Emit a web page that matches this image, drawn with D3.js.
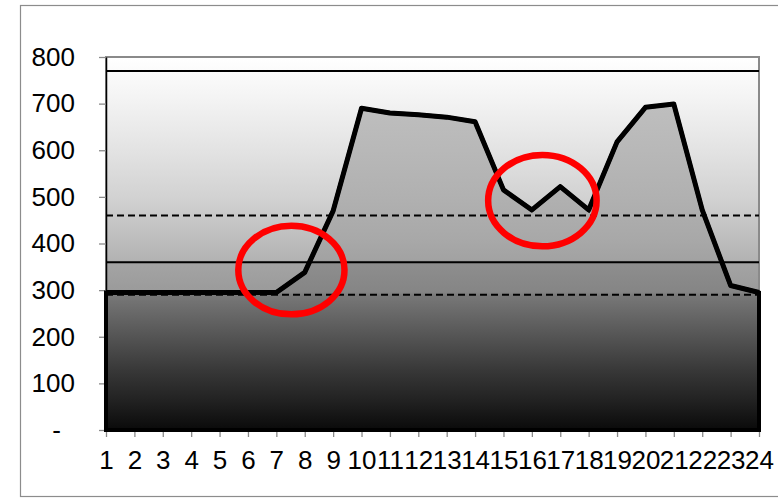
<!DOCTYPE html>
<html>
<head>
<meta charset="utf-8">
<script src="https://cdn.jsdelivr.net/npm/d3@7"></script>
<style>
  html, body { margin: 0; padding: 0; background: #fff; }
  svg { display: block; font-family: "Liberation Sans", Arial, sans-serif; }
</style>
</head>
<body>
<svg id="chart" width="778" height="498"></svg>
<script>
// Hourly values (hours 1..24)
const hours = [1,2,3,4,5,6,7,8,9,10,11,12,13,14,15,16,17,18,19,20,21,22,23,24];
const values = [295,295,295,295,295,295,295,338,470,690,680,676,671,661,515,472,522,472,618,692,699,472,310,295];

// Horizontal reference levels
const solidLevels = [770, 360];
const dashedLevels = [460, 290];

// Value axis ticks
const yTicks = [0,100,200,300,400,500,600,700,800];

// Highlighted regions: centre in (hour, value), radii in (hours, value units)
const highlights = [
  { hour: 7.53, value: 343, rHour: 1.87, rValue: 95 },
  { hour: 16.37, value: 492, rHour: 1.91, rValue: 98 }
];

const svg = d3.select("#chart");
const plotL = 106, plotR = 759, plotT = 57, plotB = 430;

const x = d3.scaleLinear().domain([1, 24]).range([plotL, plotR]);
const y = d3.scaleLinear().domain([0, 800]).range([plotB, plotT]);

const defs = svg.append("defs");

// Plot background gradient
const bg = defs.append("linearGradient")
  .attr("id", "bgGrad").attr("gradientUnits", "userSpaceOnUse")
  .attr("x1", 0).attr("y1", plotT).attr("x2", 0).attr("y2", plotB);
[[plotT, "#ffffff"], [72, "#fbfbfb"], [100, "#f3f3f3"], [150, "#e3e3e3"], [200, "#d1d1d1"],
 [240, "#bdbdbd"], [260, "#b3b3b3"], [263, "#a4a4a4"], [292, "#9a9a9a"], [plotB, "#606060"]]
  .forEach(([p, c]) => bg.append("stop").attr("offset", (p - plotT) / (plotB - plotT)).attr("stop-color", c));

// Area fill gradient
const ag = defs.append("linearGradient")
  .attr("id", "areaGrad").attr("gradientUnits", "userSpaceOnUse")
  .attr("x1", 0).attr("y1", plotT).attr("x2", 0).attr("y2", plotB);
[[plotT, "#c4c4c4"], [115, "#bdbdbd"], [150, "#b8b8b8"], [200, "#b0b0b0"], [240, "#a8a8a8"],
 [260, "#a2a2a2"], [263, "#8e8e8e"], [292, "#858585"], [296, "#777777"], [330, "#5a5a5a"],
 [370, "#383838"], [400, "#222222"], [plotB, "#0a0a0a"]]
  .forEach(([p, c]) => ag.append("stop").attr("offset", (p - plotT) / (plotB - plotT)).attr("stop-color", c));

// Outer chart frame
svg.append("rect")
  .attr("x", 20.5).attr("y", 5.5).attr("width", 800).attr("height", 491)
  .attr("fill", "none").attr("stroke", "#8c8c8c").attr("stroke-width", 1.2);

// Plot area
svg.append("rect")
  .attr("x", plotL).attr("y", plotT).attr("width", plotR - plotL).attr("height", plotB - plotT)
  .attr("fill", "url(#bgGrad)").attr("stroke", "#8a8a8a").attr("stroke-width", 2);

const data = hours.map((h, i) => ({ h, v: values[i] }));

// Area fill under the series
const area = d3.area().x(d => x(d.h)).y0(y(0)).y1(d => y(d.v));
svg.append("path").datum(data).attr("d", area).attr("fill", "url(#areaGrad)");

// Reference lines
svg.selectAll("line.solid").data(solidLevels).join("line")
  .attr("class", "solid")
  .attr("x1", plotL).attr("x2", plotR)
  .attr("y1", d => y(d)).attr("y2", d => y(d))
  .attr("stroke", "#000").attr("stroke-width", 2);

svg.selectAll("line.dashed").data(dashedLevels).join("line")
  .attr("class", "dashed")
  .attr("x1", plotL).attr("x2", plotR)
  .attr("y1", d => y(d)).attr("y2", d => y(d))
  .attr("stroke", "#000").attr("stroke-width", 2).attr("stroke-dasharray", "7,4");

// Axes
const yAxis = d3.axisLeft(y).tickValues(yTicks)
  .tickFormat(d => d === 0 ? "-" : d3.format("d")(d))
  .tickSizeInner(7).tickSizeOuter(0).tickPadding(24);
const gy = svg.append("g").attr("transform", `translate(${plotL},0)`).call(yAxis);
gy.select(".domain").attr("stroke", "#000").attr("stroke-width", 1.5);
gy.selectAll(".tick line").attr("stroke", "#8a8a8a").attr("stroke-width", 1.3);
gy.selectAll(".tick text").attr("font-size", 26).attr("fill", "#000")
  .attr("font-family", "Liberation Sans, Arial, sans-serif")
  .attr("x", d => d === 0 ? -45 : -31);

const xAxis = d3.axisBottom(x).tickValues(hours).tickFormat(d3.format("d"))
  .tickSizeInner(7).tickSizeOuter(0).tickPadding(14);
const gx = svg.append("g").attr("transform", `translate(0,${plotB})`).call(xAxis);
gx.select(".domain").attr("stroke", "#000").attr("stroke-width", 1.5);
gx.selectAll(".tick line").attr("stroke", "#8a8a8a").attr("stroke-width", 1.3);
gx.selectAll(".tick text").attr("font-size", 26).attr("fill", "#000")
  .attr("font-family", "Liberation Sans, Arial, sans-serif");

// Area outline (closed: baseline and both ends)
const outline = d3.line().x(d => x(d.h)).y(d => y(d.v));
const closed = [{ h: 1, v: 0 }, ...data, { h: 24, v: 0 }];
svg.append("path").datum(closed)
  .attr("d", d => outline(d) + "Z")
  .attr("fill", "none").attr("stroke", "#000").attr("stroke-width", 4)
  .attr("stroke-linejoin", "miter");

// Series line on top
svg.append("path").datum(data).attr("d", outline)
  .attr("fill", "none").attr("stroke", "#000").attr("stroke-width", 5)
  .attr("stroke-linejoin", "round");

// Highlight ellipses
svg.selectAll("ellipse.hl").data(highlights).join("ellipse")
  .attr("class", "hl")
  .attr("cx", d => x(d.hour)).attr("cy", d => y(d.value))
  .attr("rx", d => x(d.hour + d.rHour) - x(d.hour))
  .attr("ry", d => y(d.value - d.rValue) - y(d.value))
  .attr("fill", "none").attr("stroke", "#ff0000").attr("stroke-width", 6.5);
</script>
</body>
</html>
